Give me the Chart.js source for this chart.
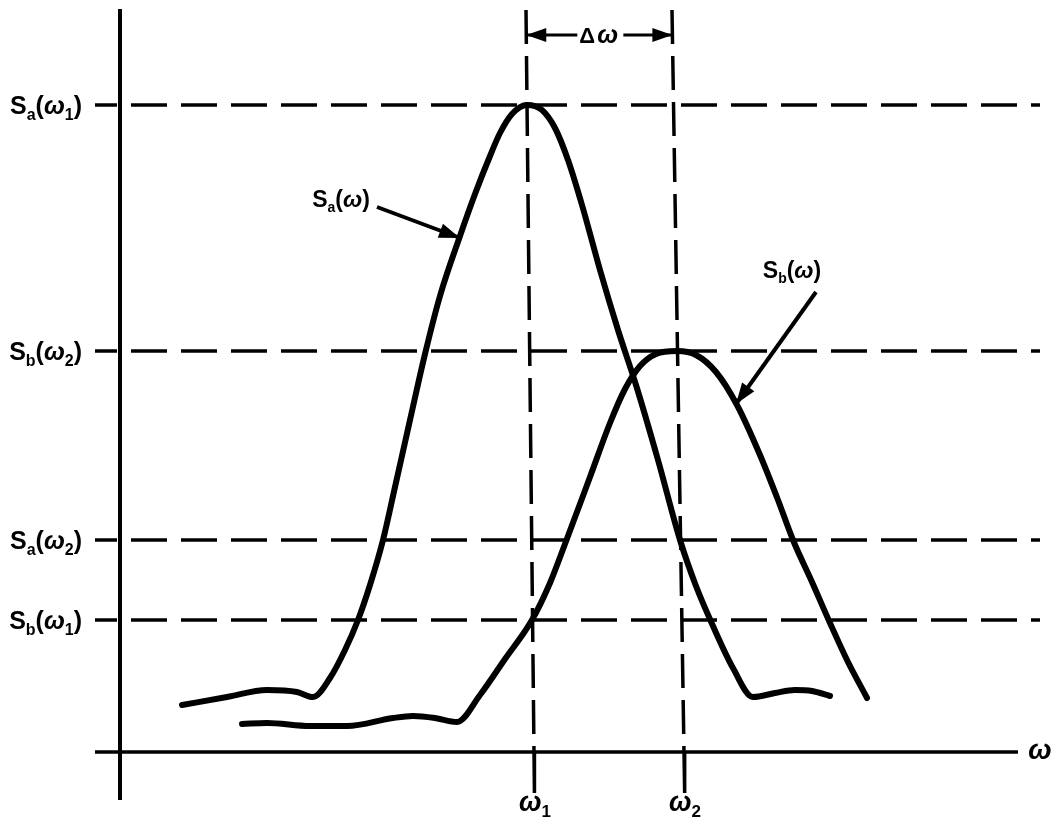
<!DOCTYPE html>
<html>
<head>
<meta charset="utf-8">
<script src="https://cdn.jsdelivr.net/npm/chart.js@4.4.1/dist/chart.umd.min.js"></script>
<style>
  html, body { margin: 0; padding: 0; background: #fff; }
  #wrap { width: 1052px; height: 821px; }
</style>
</head>
<body>
<div id="wrap"><canvas id="c" width="1052" height="821"></canvas></div>
<script>
// Spectrum S_a(ω): low ripple, steep rise to its peak at ω1, fall and ripple again
const saX = [6.2,10.7,14.7,17.7,19.3,21.0,22.5,23.8,25.0,26.3,27.5,29.0,30.5,32.0,34.0,35.5,37.0,38.0,39.2,40.7,42.2,43.5,44.8,46.2,48.0,49.8,51.6,53.8,56.0,57.6,59.3,61.3,63.3,65.5,67.5,69.2,71.0];
const saY = [4.7,5.5,6.2,6.0,5.5,7.4,10.2,13.2,16.7,21.2,26.5,33.2,39.8,45.6,51.6,55.8,59.6,61.9,63.8,64.7,64.2,62.4,59.2,54.7,48.2,42.2,36.7,29.2,21.2,16.6,12.6,8.4,5.5,5.9,6.2,6.1,5.6];

// Spectrum S_b(ω): peak at ω2
const sbX = [12.2,14.7,19.0,22.7,27.3,29.3,31.5,33.7,36.0,38.5,41.2,43.0,44.5,47.0,49.0,50.5,52.0,53.6,55.7,57.6,59.6,61.7,64.0,65.8,67.3,69.2,71.0,72.8,74.7];
const sbY = [2.8,2.9,2.6,2.6,3.4,3.6,3.4,3.0,5.7,9.3,13.2,16.9,20.8,27.5,32.9,36.3,38.6,39.8,40.1,39.7,38.0,34.7,29.7,25.2,21.2,17.0,12.9,9.0,5.4];

// Reference levels on the vertical axis ("_" marks a subscript character)
const levelNames  = ['S_a(ω_1)', 'S_b(ω_2)', 'S_a(ω_2)', 'S_b(ω_1)'];
const levelValues = [64.7, 40.1, 21.2, 13.2];

// Marked frequencies on the horizontal axis, and how far each guide leans at the top
const freqNames  = ['ω_1', 'ω_2'];
const freqValues = [41.4, 56.4];
const freqLean   = [0.8, 1.2];

// Curve captions and their pointer arrows (tail -> tip)
const curveNames = ['S_a(ω)', 'S_b(ω)'];
const captionX = [22.1, 67.2];
const captionY = [55.3, 48.2];
const pointerX = [[25.7, 34.0], [69.6, 61.6]];
const pointerY = [[54.5, 51.4], [46.0, 34.8]];

const TOP = 74.2, AXIS_END = 89.8, LEVEL_END = 92.0;
const BLACK = '#000';

function parts(str) {
  const out = [];
  for (let i = 0; i < str.length; i++) {
    if (str[i] === '_') { out.push({ t: str[i + 1], sub: true }); i++; }
    else out.push({ t: str[i], sub: false });
  }
  return out;
}

function drawRich(ctx, str, x, y, size, align) {
  const ps = parts(str);
  const fontFor = p => {
    const s = p.sub ? Math.round(size * 0.62) : size;
    const it = p.t === 'ω' ? 'italic ' : '';
    return `${it}bold ${s}px "Liberation Sans", Arial, sans-serif`;
  };
  let w = 0;
  ps.forEach(p => { ctx.font = fontFor(p); p.w = ctx.measureText(p.t).width; w += p.w; });
  let cx = align === 'right' ? x - w : align === 'center' ? x - w / 2 : x;
  const base = y + size * 0.36;
  ctx.textBaseline = 'alphabetic';
  ctx.textAlign = 'left';
  ps.forEach(p => {
    ctx.font = fontFor(p);
    ctx.fillText(p.t, cx, p.sub ? base + size * 0.22 : base);
    cx += p.w;
  });
  return w;
}

function arrowHead(ctx, fx, fy, tx, ty, len, half) {
  const a = Math.atan2(ty - fy, tx - fx);
  ctx.beginPath();
  ctx.moveTo(tx, ty);
  ctx.lineTo(tx - len * Math.cos(a) + half * Math.sin(a), ty - len * Math.sin(a) - half * Math.cos(a));
  ctx.lineTo(tx - len * Math.cos(a) - half * Math.sin(a), ty - len * Math.sin(a) + half * Math.cos(a));
  ctx.closePath();
  ctx.fill();
}

const line = (pts, width, dash, offset) => ({
  data: pts, borderColor: BLACK, borderWidth: width, borderDash: dash || [],
  borderDashOffset: offset || 0, pointRadius: 0, tension: 0, fill: false, clip: false,
  borderCapStyle: 'butt'
});

const datasets = [];
// axes
datasets.push(line([{ x: 0, y: TOP + 0.1 }, { x: 0, y: -4.8 }], 4));
datasets.push(line([{ x: -2.5, y: 0 }, { x: AXIS_END, y: 0 }], 3.5));
// horizontal level guides
levelValues.forEach(v => datasets.push(line([{ x: -2.5, y: v }, { x: LEVEL_END, y: v }], 3.5, [36, 14], 14)));
// vertical frequency guides (leaning slightly) and their ticks below the axis
const guideX = (i, yv) => freqValues[i] - freqLean[i] * yv / TOP;
freqValues.forEach((v, i) => {
  datasets.push(line([{ x: guideX(i, TOP), y: TOP }, { x: v, y: 0 }], 3.5, [34, 12]));
  datasets.push(line([{ x: v, y: 0 }, { x: guideX(i, -4.1), y: -4.1 }], 3.5));
});
// Δω span between the guides
const spanY = 71.7;
const spanL = guideX(0, spanY);
const spanR = guideX(1, spanY);
datasets.push(line([{ x: spanL, y: spanY }, { x: spanR, y: spanY }], 3));
// pointer shafts
pointerX.forEach((px, i) => datasets.push(line([{ x: px[0], y: pointerY[i][0] }, { x: px[1], y: pointerY[i][1] }], 4)));
// the two spectra
[[saX, saY], [sbX, sbY]].forEach(([xs, ys]) => {
  datasets.push({
    data: xs.map((x, i) => ({ x, y: ys[i] })),
    borderColor: BLACK, borderWidth: 6, pointRadius: 0, fill: false, clip: false,
    cubicInterpolationMode: 'monotone', borderCapStyle: 'round', borderJoinStyle: 'round'
  });
});

const annotate = {
  id: 'annotate',
  afterDatasetsDraw(chart) {
    const { ctx, scales: { x, y } } = chart;
    const X = v => x.getPixelForValue(v), Y = v => y.getPixelForValue(v);
    ctx.save();
    ctx.fillStyle = BLACK;

    // level names
    levelNames.forEach((n, i) => drawRich(ctx, n, 82, Y(levelValues[i]), 25, 'right'));

    // frequency names under the axis
    freqNames.forEach((n, i) => drawRich(ctx, n, X(freqValues[i]) + 1, 801, 27, 'center'));

    // axis name
    drawRich(ctx, 'ω', 1040, Y(0) - 3, 28, 'center');

    // curve captions with arrowheads
    curveNames.forEach((n, i) => {
      drawRich(ctx, n, X(captionX[i]), Y(captionY[i]), 23, 'center');
      arrowHead(ctx, X(pointerX[i][0]), Y(pointerY[i][0]), X(pointerX[i][1]), Y(pointerY[i][1]), 21, 7.5);
    });

    // Δω span arrows and label
    const yy = Y(spanY), l = X(spanL), r = X(spanR);
    arrowHead(ctx, r, yy, l, yy, 20, 7);
    arrowHead(ctx, l, yy, r, yy, 20, 7);
    const mid = (l + r) / 2;
    ctx.fillStyle = '#fff';
    ctx.fillRect(mid - 22, yy - 11, 46, 22);
    ctx.fillStyle = BLACK;
    ctx.textBaseline = 'alphabetic';
    ctx.textAlign = 'left';
    ctx.font = 'bold 22px "Liberation Sans", Arial, sans-serif';
    ctx.fillText('Δ', mid - 20, yy + 8);
    ctx.font = 'italic bold 25px "Liberation Sans", Arial, sans-serif';
    ctx.fillText('ω', mid - 2, yy + 8);
    ctx.restore();
  }
};

new Chart(document.getElementById('c'), {
  type: 'line',
  data: { datasets },
  options: {
    responsive: false,
    animation: false,
    devicePixelRatio: 1,
    layout: { padding: { left: 90, right: 7, top: 8, bottom: 16 } },
    plugins: { legend: { display: false }, tooltip: { enabled: false } },
    scales: {
      x: { type: 'linear', min: -3, max: 92.5, display: false },
      y: { type: 'linear', min: -5.3, max: 74.4, display: false }
    }
  },
  plugins: [annotate]
});
</script>
</body>
</html>
